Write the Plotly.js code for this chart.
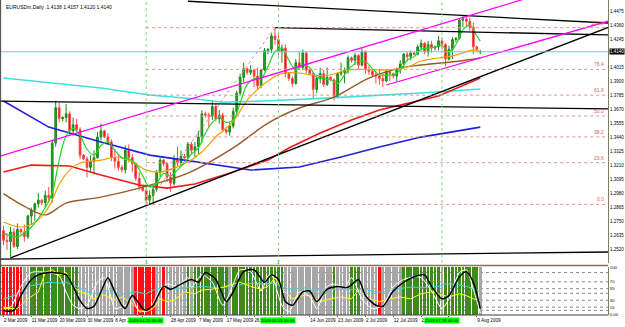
<!DOCTYPE html>
<html><head><meta charset="utf-8">
<script src="https://cdn.plot.ly/plotly-3.0.1.min.js"></script>
<style>html,body{margin:0;padding:0;background:#fff;}#chart{width:625px;height:327px;}</style>
</head><body><div id="chart"></div>
<script>
// ---------- DATA ----------
const open = [
1.2670,1.2590,1.2580,1.2660,1.2540,1.2680,1.2660,1.2620,1.2790,1.2840,
1.2890,1.2920,1.2900,1.2960,1.2940,1.3390,1.3680,1.3590,1.3600,1.3630,
1.3490,1.3540,1.3500,1.3290,1.3260,1.3190,1.3240,1.3270,1.3440,1.3490,
1.3440,1.3400,1.3270,1.3240,1.3190,1.3170,1.3330,1.3270,1.3220,1.3100,
1.3030,1.3000,1.2920,1.2960,1.3010,1.3150,1.3250,1.3220,1.3110,1.3060,
1.3260,1.3230,1.3280,1.3270,1.3380,1.3330,1.3360,1.3440,1.3630,1.3620,
1.3610,1.3690,1.3590,1.3620,1.3500,1.3480,1.3530,1.3650,1.3800,1.3930,
1.4000,1.3970,1.3990,1.3940,1.3860,1.3990,1.4150,1.4160,1.4270,1.4240,
1.4140,1.4170,1.3960,1.3920,1.3880,1.4050,1.4010,1.4130,1.3990,1.3960,
1.3830,1.3920,1.3960,1.3870,1.3930,1.3910,1.3770,1.3960,1.3970,1.3990,
1.4090,1.4070,1.4110,1.4030,1.4140,1.3990,1.3980,1.3950,1.3940,1.3920,
1.3900,1.3980,1.3960,1.3940,1.3990,1.4040,1.4120,1.4100,1.4130,1.4120,
1.4180,1.4210,1.4140,1.4200,1.4170,1.4180,1.4230,1.4200,1.4080,1.4160,
1.4240,1.4250,1.4400,1.4410,1.4390,1.4340,1.4180,1.4138];
const high = [
1.2710,1.2650,1.2700,1.2690,1.2730,1.2690,1.2720,1.2800,1.2860,1.2900,
1.2980,1.2930,1.3000,1.3030,1.3420,1.3738,1.3720,1.3610,1.3710,1.3650,
1.3600,1.3590,1.3520,1.3300,1.3280,1.3290,1.3330,1.3480,1.3550,1.3500,
1.3470,1.3420,1.3340,1.3290,1.3210,1.3370,1.3380,1.3300,1.3230,1.3150,
1.3040,1.3030,1.3000,1.3030,1.3170,1.3270,1.3260,1.3230,1.3150,1.3290,
1.3360,1.3330,1.3300,1.3400,1.3400,1.3400,1.3490,1.3660,1.3650,1.3640,
1.3740,1.3710,1.3660,1.3640,1.3510,1.3560,1.3680,1.3820,1.3960,1.4050,
1.4010,1.4030,1.4000,1.4010,1.4000,1.4170,1.4170,1.4290,1.4338,1.4290,
1.4200,1.4200,1.3970,1.3940,1.4080,1.4140,1.4160,1.4140,1.4000,1.3970,
1.3950,1.4010,1.3990,1.4010,1.3940,1.3920,1.3970,1.4050,1.4010,1.4110,
1.4100,1.4130,1.4120,1.4170,1.4150,1.4020,1.3990,1.3980,1.4000,1.3960,
1.4000,1.3990,1.3970,1.4010,1.4070,1.4130,1.4140,1.4150,1.4140,1.4200,
1.4240,1.4220,1.4230,1.4230,1.4190,1.4270,1.4260,1.4210,1.4190,1.4260,
1.4260,1.4410,1.4440,1.4445,1.4420,1.4380,1.4190,1.4157];
const low = [
1.2550,1.2510,1.2455,1.2530,1.2520,1.2640,1.2580,1.2600,1.2720,1.2750,
1.2860,1.2880,1.2860,1.2900,1.2900,1.3360,1.3560,1.3570,1.3560,1.3460,
1.3450,1.3480,1.3260,1.3250,1.3110,1.3150,1.3130,1.3260,1.3410,1.3430,
1.3380,1.3240,1.3180,1.3160,1.3150,1.3140,1.3230,1.3150,1.3080,1.3000,
1.2990,1.2886,1.2890,1.2890,1.2990,1.3110,1.3200,1.3070,1.2990,1.3040,
1.3200,1.3210,1.3260,1.3260,1.3300,1.3270,1.3300,1.3390,1.3600,1.3520,
1.3580,1.3570,1.3550,1.3480,1.3460,1.3450,1.3510,1.3620,1.3780,1.3890,
1.3950,1.3950,1.3850,1.3830,1.3840,1.3980,1.4120,1.4130,1.4200,1.4110,
1.4050,1.3930,1.3900,1.3850,1.3870,1.3990,1.3990,1.3960,1.3950,1.3760,
1.3800,1.3880,1.3850,1.3860,1.3900,1.3740,1.3760,1.3940,1.3880,1.3960,
1.4050,1.4030,1.4000,1.4020,1.3960,1.3950,1.3940,1.3880,1.3870,1.3850,
1.3890,1.3900,1.3920,1.3900,1.3960,1.4000,1.4060,1.4070,1.4110,1.4110,
1.4150,1.4120,1.4100,1.4130,1.4150,1.4150,1.4160,1.4020,1.4070,1.4080,
1.4220,1.4240,1.4340,1.4340,1.4310,1.4120,1.4150,1.4120];
const close = [
1.2590,1.2580,1.2660,1.2540,1.2680,1.2660,1.2620,1.2790,1.2840,1.2890,
1.2920,1.2900,1.2960,1.2940,1.3390,1.3680,1.3590,1.3600,1.3630,1.3490,
1.3540,1.3500,1.3290,1.3260,1.3190,1.3240,1.3270,1.3440,1.3490,1.3440,
1.3400,1.3270,1.3240,1.3190,1.3170,1.3330,1.3270,1.3220,1.3100,1.3030,
1.3000,1.2920,1.2960,1.3010,1.3150,1.3250,1.3220,1.3110,1.3060,1.3260,
1.3230,1.3280,1.3270,1.3380,1.3330,1.3360,1.3440,1.3630,1.3620,1.3610,
1.3690,1.3590,1.3620,1.3500,1.3480,1.3530,1.3650,1.3800,1.3930,1.4000,
1.3970,1.3990,1.3940,1.3860,1.3990,1.4150,1.4160,1.4270,1.4240,1.4140,
1.4170,1.3960,1.3920,1.3880,1.4050,1.4010,1.4130,1.3990,1.3960,1.3830,
1.3920,1.3960,1.3870,1.3930,1.3910,1.3770,1.3960,1.3970,1.3990,1.4090,
1.4070,1.4110,1.4030,1.4140,1.3990,1.3980,1.3950,1.3940,1.3920,1.3900,
1.3980,1.3960,1.3940,1.3990,1.4040,1.4120,1.4100,1.4130,1.4120,1.4180,
1.4210,1.4140,1.4200,1.4170,1.4180,1.4230,1.4200,1.4080,1.4160,1.4240,
1.4250,1.4400,1.4410,1.4390,1.4340,1.4180,1.4160,1.4140];

// date ticks (the three labels hidden under the green time boxes in the picture are left blank)
const tickIdx  = [0,8,16,24,32,40,48,56,64,72,80,88,96,104,112,120,128,136];
const tickText = ["2 Mar 2009","11 Mar 2009","20 Mar 2009","30 Mar 2009","8 Apr 2009","",
  "28 Apr 2009","7 May 2009","17 May 2009","26 May 2009","","14 Jun 2009","23 Jun 2009",
  "2 Jul 2009","12 Jul 2009","21 Jul 2009","","9 Aug 2009"];
const priceTicks = [1.4475,1.4360,1.4245,1.4015,1.3900,1.3785,1.3670,1.3555,1.3440,
  1.3325,1.3210,1.3095,1.2980,1.2865,1.2750,1.2635,1.2520];
const bid = 1.4140;

// moving averages [bar, price]
const maFast = [[0,1.2650],[4,1.2620],[8,1.2700],[12,1.2860],[14,1.2980],[16,1.3250],[18,1.3450],[20,1.3510],
 [22,1.3450],[24,1.3340],[26,1.3290],[28,1.3370],[30,1.3400],[32,1.3330],[34,1.3270],[36,1.3260],[38,1.3220],
 [40,1.3120],[42,1.3030],[44,1.3060],[46,1.3140],[48,1.3120],[50,1.3170],[52,1.3230],[54,1.3300],[56,1.3350],
 [58,1.3470],[60,1.3560],[62,1.3600],[64,1.3560],[66,1.3580],[68,1.3720],[70,1.3870],[72,1.3920],[74,1.3920],
 [76,1.4020],[78,1.4140],[80,1.4170],[82,1.4070],[84,1.3990],[86,1.4030],[88,1.4010],[90,1.3930],[92,1.3920],
 [94,1.3910],[96,1.3880],[98,1.3950],[100,1.4020],[102,1.4060],[104,1.4060],[106,1.4000],[108,1.3950],
 [110,1.3950],[112,1.3950],[114,1.3990],[116,1.4070],[118,1.4100],[120,1.4160],[122,1.4170],[124,1.4180],
 [126,1.4190],[128,1.4140],[130,1.4200],[132,1.4320],[134,1.4360],[136,1.4270],[137,1.4230]];
const maMid = [[0,1.2741],[5,1.2700],[9,1.2740],[13,1.2864],[16,1.3050],[19,1.3168],[22,1.3226],[28,1.3250],
 [33,1.3275],[37,1.3234],[41,1.3168],[45,1.3152],[49,1.3184],[53,1.3234],[57,1.3316],[61,1.3440],[66,1.3570],
 [70,1.3740],[75,1.3880],[80,1.3960],[85,1.3965],[88,1.3950],[93,1.3945],[99,1.3990],[104,1.3995],[110,1.3990],
 [116,1.4015],[120,1.4064],[125,1.4089],[130,1.4113],[135,1.4155],[137,1.4140]];
const maSlow = [[0,1.2974],[6,1.2870],[12,1.2800],[18,1.2897],[28,1.2946],[39,1.3020],[53,1.3143],[66,1.3350],
 [76,1.3554],[85,1.3678],[95,1.3768],[105,1.3924],[114,1.4006],[120,1.4031],[130,1.4060],[137,1.4089]];
const maRed = [[0,1.3152],[8,1.3209],[19,1.3201],[28,1.3127],[39,1.3045],[47,1.3020],[55,1.3053],[66,1.3152],
 [76,1.3250],[82,1.3349],[91,1.3472],[100,1.3579],[108,1.3661],[117,1.3719],[125,1.3776],[137,1.3924]];
const maBlue = [[0,1.3735],[13,1.3521],[28,1.3398],[37,1.3332],[42,1.3291],[52,1.3250],[62,1.3209],[71,1.3168],
 [85,1.3193],[97,1.3275],[108,1.3357],[120,1.3439],[137,1.3521]];
const maLong = [[0,1.3924],[14,1.3880],[28,1.3842],[42,1.3785],[56,1.3750],[63,1.3725],[75,1.3735],[90,1.3755],
 [105,1.3775],[120,1.3801],[137,1.3834]];

// trend objects [bar, price]
const tlTop    = [[53,1.4555],[174,1.4376]];
const tlPeak   = [[78,1.4338],[174,1.4278]];
const tlHoriz  = [[-1,1.3735],[174,1.3670]];
const tlBottom = [[-1,1.2437],[174,1.2495]];
const tlRise   = [[2,1.2446],[174,1.4343]];
const chUpper  = [[-1,1.3283],[174,1.4782]];
const chLower  = [[110,1.3867],[174,1.4393]];
const fibLow = [41,1.2886], fibHigh = [78,1.4338];
const fibLevels = [0,23.6,38.2,50,61.8,76.4,100];
const vLines = [41,79,126];
const vLineDates = ["2009.04.20 00:00","2009.06.03 00:00","2009.07.28 00:00"];

// oscillator panel
const trendState = "rrrrrr"+"nn"+"gggggggggggggg"+"nnnnnnnnnnnnnnnn"+"rrrrrr"+"nn"+"r"+"nnnnnn"+"g"+"n"+
  "gggggggggg"+"n"+"ggggggggggggggg"+"nnnnnnnnnnnnnn"+"g"+"nnnn"+"ggg"+"nnnnn"+"r"+"nnnnnn"+
  "ggggggggggg"+"n"+"gggggggggg"+"n";
const oscBlack = [[0,7],[3,8],[5,40],[8,75],[10,85],[13,90],[18,85],[20,60],[22,29],[24,12],[26,17],[28,48],[30,79],
 [32,48],[34,19],[35,12],[37,40],[40,12],[41,8],[43,19],[46,60],[48,54],[51,65],[54,75],[56,69],[58,90],[61,75],
 [64,27],[66,48],[69,92],[72,96],[75,69],[77,85],[79,75],[81,27],[83,19],[86,48],[88,50],[90,27],[93,54],[96,60],
 [99,58],[102,75],[104,40],[107,19],[109,17],[112,50],[115,69],[118,81],[121,85],[123,60],[126,33],[128,40],
 [131,81],[133,92],[135,69],[137,12]];
const oscWhite = [[0,15],[2,15],[5,60],[8,90],[13,90],[16,83],[18,48],[20,19],[22,12],[24,19],[27,69],[29,79],
 [31,33],[32,12],[35,19],[37,33],[39,5],[42,12],[45,54],[47,65],[50,60],[53,79],[54,58],[57,85],[60,69],[63,19],
 [66,65],[68,96],[71,92],[74,50],[76,83],[77,85],[80,19],[82,5],[85,48],[88,38],[90,12],[93,60],[95,65],[98,58],
 [100,79],[103,33],[106,12],[109,19],[112,60],[115,75],[118,81],[120,79],[123,50],[126,12],[128,33],[131,90],
 [133,96],[135,54],[137,2]];
const oscYellow = [[0,12],[4,12],[7,33],[10,48],[12,90],[14,96],[16,85],[18,90],[20,60],[22,48],[24,44],[26,33],
 [28,44],[30,37],[32,30],[34,37],[35,33],[37,23],[39,8],[41,5],[43,12],[45,33],[47,27],[49,30],[52,48],[55,44],
 [57,52],[60,54],[63,58],[66,65],[68,69],[71,60],[74,54],[76,60],[78,79],[80,54],[83,33],[86,40],[88,40],[91,27],
 [94,33],[97,37],[100,33],[102,52],[105,33],[108,27],[111,33],[114,37],[117,33],[120,44],[123,48],[125,44],
 [128,37],[131,44],[133,40],[135,33],[137,30]];
const oscCyan = [[0,33],[3,40],[7,60],[11,67],[13,69],[16,67],[18,69],[21,60],[24,48],[27,44],[30,52],[32,44],
 [35,44],[38,48],[41,44],[43,52],[46,58],[49,54],[52,58],[55,58],[57,60],[60,58],[63,58],[66,60],[69,65],[72,67],
 [75,65],[78,67],[80,58],[83,54],[86,58],[88,52],[93,52],[96,54],[99,52],[102,54],[105,52],[107,48],[110,48],
 [113,54],[116,58],[119,58],[122,58],[125,60],[127,65],[130,65],[133,60],[136,52],[137,48]];
const oscLevels = [90,70,55,45,30,15,8];
const oscTicks = [100,70,55,30,15,0];
const oscTickText = ["100","70","55","30","15","0.00"];

// ---------- STYLE / LAYOUT ----------
const FONT = "Liberation Sans, Arial, sans-serif";
const W = 625, H = 327;
const xDomEnd = 608 / W;
const mainDom = [1 - 263 / H, 1];
const oscDom = [(H - 315) / H, (H - 267) / H];
const xRange = [-1.006, 173.7];

const idx = open.map((_, i) => i);
const stateColor = {r: "#ff1010", g: "#3f8a1c", n: "#a6a6a6"};

function line(pairs, color, width, yaxis, extra) {
  return Object.assign({
    type: "scatter", mode: "lines", x: pairs.map(p => p[0]), y: pairs.map(p => p[1]),
    xaxis: "x", yaxis: yaxis || "y", line: {color: color, width: width}, hoverinfo: "skip"
  }, extra || {});
}

const traces = [];
traces.push({
  type: "bar", x: trendState.split("").map((_, i) => i), y: trendState.split("").map(() => 104.2),
  base: -2.1, width: 0.78, xaxis: "x", yaxis: "y2",
  marker: {color: trendState.split("").map(c => stateColor[c]), line: {width: 0}}, hoverinfo: "skip"
});
traces.push(line(oscCyan, "#3fd4d4", 1, "y2"));
traces.push(line(oscYellow, "#ffff00", 1, "y2"));
traces.push(line(oscWhite, "#ffffff", 1, "y2", {line: {color: "#ffffff", width: 1, shape: "spline", smoothing: 0.7}}));
traces.push(line(oscBlack, "#000000", 1.4, "y2", {line: {color: "#000000", width: 1.5, shape: "spline", smoothing: 0.7}}));

traces.push({
  type: "candlestick", x: idx, open: open, high: high, low: low, close: close,
  xaxis: "x", yaxis: "y", whiskerwidth: 0,
  increasing: {line: {color: "#1a8a1a", width: 1}, fillcolor: "#23a323"},
  decreasing: {line: {color: "#ff4a4a", width: 1}, fillcolor: "#ff0000"},
  hoverinfo: "skip"
});
traces.push(line(maLong, "#40e0e0", 1.6));
traces.push(line(maBlue, "#1f1fe0", 1.6));
traces.push(line(maRed, "#ee1a1a", 1.6));
traces.push(line(maSlow, "#9a5a2a", 1.4, "y", {line: {color: "#9a5a2a", width: 1.4, shape: "spline"}}));
traces.push(line(maMid, "#ffa500", 1.2, "y", {line: {color: "#f5a000", width: 1.2, shape: "spline"}}));
traces.push(line(maFast, "#22dd22", 1.2, "y", {line: {color: "#22d822", width: 1.2, shape: "spline"}}));
[tlTop, tlPeak, tlHoriz, tlBottom, tlRise].forEach(t => traces.push(line(t, "#000000", 1.3)));
traces.push(line(chUpper, "#ff00ff", 1.3));
traces.push(line(chLower, "#ff00ff", 1.3));
traces.push(line([fibLow, fibHigh], "#e08a8a", 1, "y", {line: {color: "#e08a8a", width: 1, dash: "dot"}}));

const shapes = [];
const fibPrice = l => fibLow[1] + (fibHigh[1] - fibLow[1]) * l / 100;
fibLevels.forEach(l => shapes.push({type: "line", xref: "x", yref: "y", x0: fibLow[0], x1: xRange[1],
  y0: fibPrice(l), y1: fibPrice(l), line: {color: "#e59090", width: 1, dash: "dot"}}));
vLines.forEach(v => shapes.push({type: "line", xref: "x", yref: "paper", x0: v, x1: v, y0: mainDom[0], y1: 1,
  line: {color: "#77e077", width: 1, dash: "dot"}}));
shapes.push({type: "line", xref: "paper", yref: "y", x0: 0, x1: xDomEnd, y0: bid, y1: bid,
  line: {color: "#40e0e0", width: 1}});
oscLevels.forEach(v => shapes.push({type: "line", xref: "paper", yref: "y2", x0: 0, x1: xDomEnd, y0: v, y1: v,
  layer: "below", line: {color: "#888888", width: 1, dash: "dot"}}));
shapes.push({type: "line", xref: "paper", yref: "paper", x0: 0, x1: xDomEnd, y0: (H - 265.5) / H, y1: (H - 265.5) / H,
  line: {color: "#8c6e50", width: 1.5}});
shapes.push({type: "line", xref: "paper", yref: "paper", x0: 0.001, x1: 0.001, y0: oscDom[0], y1: 1,
  line: {color: "#404040", width: 1}});
shapes.push({type: "line", xref: "paper", yref: "paper", x0: 0, x1: xDomEnd, y0: oscDom[0], y1: oscDom[0],
  line: {color: "#404040", width: 1}});

const ann = [];
ann.push({xref: "paper", yref: "paper", x: 0.006, y: 0.995, xanchor: "left", yanchor: "top", showarrow: false,
  text: "EURUSDm,Daily  1.4138 1.4157 1.4120 1.4140", font: {family: FONT, size: 5, color: "#000"}});
ann.push({xref: "paper", yref: "y", x: xDomEnd + 0.002, y: bid, xanchor: "left", yanchor: "middle", showarrow: false,
  text: bid.toFixed(4), bgcolor: "#000000", borderpad: 0, font: {family: FONT, size: 4.5, color: "#ffffff"}});
fibLevels.forEach(l => ann.push({xref: "x", yref: "y", x: xRange[1] - 0.6, y: fibPrice(l), xanchor: "right",
  yanchor: "bottom", showarrow: false, text: l.toFixed(1), font: {family: FONT, size: 5, color: "#d86060"}}));
vLines.forEach((v, k) => ann.push({xref: "x", yref: "paper", x: v, y: (H - 320.5) / H, xanchor: "center",
  yanchor: "middle", showarrow: false, text: vLineDates[k], bgcolor: "#00ff00", borderpad: 0,
  font: {family: FONT, size: 4.3, color: "#000"}}));
["1", "2"].forEach((t, k) => ann.push({xref: "x", yref: "paper", x: vLines[k], y: (H - 262) / H, xanchor: "center",
  yanchor: "middle", showarrow: false, text: t, font: {family: FONT, size: 5, color: "#33cc33"}}));

const axCommon = {showgrid: false, zeroline: false, fixedrange: true};
const layout = {
  width: W, height: H, margin: {l: 0, r: 0, t: 0, b: 0}, paper_bgcolor: "#ffffff", plot_bgcolor: "#ffffff",
  showlegend: false, bargap: 0,
  xaxis: Object.assign({}, axCommon, {domain: [0, xDomEnd], range: xRange, anchor: "y2", type: "linear",
    tickmode: "array", tickvals: tickIdx, ticktext: tickText, ticklabelposition: "outside right", tickangle: 0,
    ticks: "outside", ticklen: 1, tickcolor: "#555", tickfont: {family: FONT, size: 4.6, color: "#000"},
    showline: false, automargin: false, rangeslider: {visible: false}}),
  yaxis: Object.assign({}, axCommon, {domain: mainDom, range: [1.24044, 1.45654], anchor: "x", side: "right",
    tickmode: "array", tickvals: priceTicks, tickformat: ".4f", ticks: "", ticklen: 0, automargin: false,
    showline: true, linecolor: "#7f7f5f", linewidth: 1, tickfont: {family: FONT, size: 4.5, color: "#000"}}),
  yaxis2: Object.assign({}, axCommon, {domain: oscDom, range: [-2.08, 102.1], anchor: "x", side: "right",
    tickmode: "array", tickvals: oscTicks, ticktext: oscTickText, ticks: "", ticklen: 0, automargin: false,
    showline: true, linecolor: "#7f7f5f", tickfont: {family: FONT, size: 4.2, color: "#000"}}),
  shapes: shapes, annotations: ann
};
Plotly.newPlot("chart", traces, layout, {staticPlot: true, displayModeBar: false});
</script></body></html>
